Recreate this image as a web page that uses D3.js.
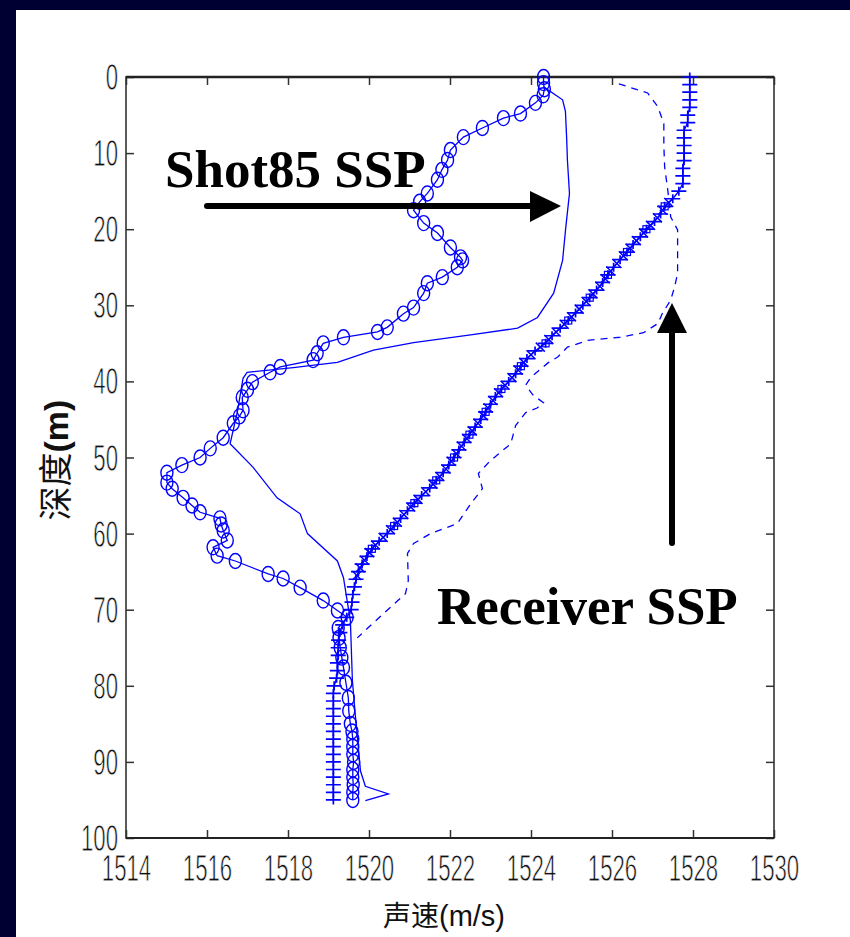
<!DOCTYPE html>
<html><head><meta charset="utf-8">
<script src="https://cdn.jsdelivr.net/npm/d3@7"></script>
<style>html,body{margin:0;padding:0;background:#fff;}svg{display:block;}</style>
</head><body>
<svg id="c" width="850" height="937"></svg>
<script>
// ---- data ----
const xTicks = [1514,1516,1518,1520,1522,1524,1526,1528,1530];
const yTicks = [0,10,20,30,40,50,60,70,80,90,100];

// circle-marked profile
const circDepth = [0,0.8,1.6,2.4,3.4,4.8,5.4,6.7,7.9,9.6,10.9,12.2,13.5,15.3,16.4,17.5,19.2,20.5,22.4,23.7,24.1,25,26.3,27.1,28.4,30.3,31.1,32.9,33.5,34.2,35,36.3,37.2,38.1,38.8,40.1,41.1,42.1,43.8,44.6,45.5,47.4,48.8,50,51,52,53.3,54.1,55.3,56.3,57.2,58,58.8,59.6,60.9,61.8,62.9,63.6,65.3,65.9,67.1,68.8,70.1,71,72.4,73.7,75,76.3,77.6,79.6,81.6,83.3,85,86,87,88,89,90,91,92,93,94,95];
const circSpeed = [1524.31,1524.31,1524.33,1524.3,1524.11,1523.74,1523.32,1522.8,1522.33,1522.01,1521.94,1521.8,1521.69,1521.44,1521.25,1521.1,1521.35,1521.69,1522.01,1522.26,1522.31,1522.18,1521.81,1521.44,1521.35,1521.1,1520.85,1520.45,1520.21,1519.37,1518.87,1518.72,1518.62,1517.81,1517.56,1517.12,1517.0,1516.87,1516.89,1516.8,1516.65,1516.4,1516.08,1515.83,1515.38,1515.01,1515.01,1515.14,1515.41,1515.63,1515.83,1516.32,1516.35,1516.4,1516.5,1516.15,1516.25,1516.7,1517.51,1517.88,1518.3,1518.87,1519.22,1519.46,1519.24,1519.26,1519.29,1519.33,1519.37,1519.43,1519.49,1519.5,1519.54,1519.58,1519.6,1519.6,1519.6,1519.62,1519.6,1519.6,1519.61,1519.6,1519.6,1519.6];

// "+" marked profile
const plusDepth = [0,1,2,3,4,5,6,7,8,9,10,11,12,13,14,15,16,17,18,19,20,21,22,23,24,25,26,27,28,29,30,31,32,33,34,35,36,37,38,39,40,41,42,43,44,45,46,47,48,49,50,51,52,53,54,55,56,57,58,59,60,61,62,63,64,65,66,67,68,69,70,71,72,73,74,75,76,77,78,79,80,81,82,83,84,85,86,87,88,89,90,91,92,93,94,95];
const plusSpeed = [1527.92,1527.92,1527.92,1527.92,1527.92,1527.87,1527.87,1527.78,1527.78,1527.78,1527.78,1527.78,1527.75,1527.75,1527.75,1527.65,1527.5,1527.3,1527.2,1527.05,1526.85,1526.7,1526.52,1526.37,1526.2,1526.04,1525.9,1525.77,1525.62,1525.45,1525.28,1525.1,1524.92,1524.72,1524.52,1524.36,1524.1,1523.9,1523.75,1523.62,1523.45,1523.27,1523.12,1523.0,1522.88,1522.76,1522.62,1522.48,1522.35,1522.22,1522.1,1521.97,1521.83,1521.66,1521.5,1521.3,1521.12,1520.95,1520.78,1520.62,1520.45,1520.25,1520.07,1519.95,1519.83,1519.74,1519.68,1519.64,1519.6,1519.58,1519.56,1519.45,1519.35,1519.28,1519.25,1519.24,1519.24,1519.22,1519.22,1519.2,1519.14,1519.12,1519.12,1519.12,1519.12,1519.12,1519.12,1519.12,1519.12,1519.12,1519.12,1519.12,1519.12,1519.12,1519.12,1519.12];

// "x" markers along the slope
const xDepth = [16.5,17.5,18.5,19.5,20.5,21.5,22.5,23.5,24.5,25.5,26.5,27.5,28.5,29.5,30.5,31.5,32.5,33.5,34.5,35.5,36.5,37.5,38.5,39.5,40.5,41.5,42.5,43.5,44.5,45.5,46.5,47.5,48.5,49.5,50.5,51.5,52.5,53.5,54.5,55.5,56.5,57.5,58.5,59.5,60.5,61.5,62.5,63.5,64.5,65.5];
const xSpeed = [1527.4,1527.25,1527.12,1526.95,1526.78,1526.6,1526.45,1526.28,1526.12,1525.97,1525.83,1525.7,1525.53,1525.36,1525.19,1525.0,1524.82,1524.62,1524.44,1524.23,1524.0,1523.82,1523.68,1523.53,1523.36,1523.2,1523.06,1522.94,1522.82,1522.69,1522.55,1522.41,1522.28,1522.16,1522.03,1521.9,1521.75,1521.58,1521.4,1521.21,1521.03,1520.86,1520.7,1520.53,1520.35,1520.16,1520.01,1519.89,1519.78,1519.7];

// small square markers along the slope
const sqDepth = [17,20,23,26,29,32,35,38,41,44,47,50,53,56,59,62];
const sqSpeed = [1527.3,1526.85,1526.37,1525.9,1525.45,1524.92,1524.36,1523.75,1523.27,1522.88,1522.48,1522.1,1521.66,1521.12,1520.62,1520.07];

// solid line: Shot85 SSP
const solidDepth = [1.3,3.0,4.5,8,11,15.3,19.7,24.1,28.4,31.6,33.0,33.9,34.9,35.9,37.5,38.2,38.8,39.6,44,48.2,51.3,55.3,57.4,60,63.6,65.8,68.8,71.4,79.3,83.7,91.2,93.2,94.2,95.1];
const solidSpeed = [1524.31,1524.78,1524.85,1524.88,1524.9,1524.95,1524.86,1524.78,1524.56,1524.16,1523.67,1522.51,1521.1,1520.11,1519.22,1518.13,1516.99,1516.89,1516.75,1516.57,1517.14,1517.73,1518.3,1518.48,1519.22,1519.37,1519.46,1519.54,1519.59,1519.66,1519.79,1519.91,1520.48,1519.91];

// dashed line: Receiver SSP
const dashDepth = [0.9,2.1,3.9,6.1,9,11.8,15,18.4,20.1,23,25.8,27.5,29.3,31,32.4,33.6,34.2,34.6,35.5,36.8,37.6,39.5,40.5,41.8,42.8,43.5,44.1,45.8,48.2,50.4,52.1,54.1,56.1,58.7,60,61.3,62.6,66.2,67.9,70.5,73.7];
const dashSpeed = [1526.17,1526.88,1527.13,1527.28,1527.28,1527.3,1527.38,1527.45,1527.62,1527.62,1527.62,1527.55,1527.45,1527.25,1527.13,1526.78,1526.2,1525.4,1524.9,1524.66,1524.41,1523.99,1523.87,1524.05,1524.31,1524.15,1523.87,1523.62,1523.5,1523.0,1522.7,1522.8,1522.51,1522.18,1521.52,1521.1,1520.95,1520.97,1520.9,1520.36,1519.71];

const labelShot = "Shot85 SSP";
const labelRecv = "Receiver SSP";
const xTitleCn = "声速", xTitleUnit = "(m/s)";
const yTitleCn = "深度", yTitleUnit = "(m)";

// ---- drawing ----
const svg = d3.select("#c");
const BLUE = "#0000ff";
svg.append("rect").attr("width",850).attr("height",937).attr("fill","#fff");
svg.append("rect").attr("x",0).attr("y",0).attr("width",850).attr("height",10).attr("fill","#000033");
svg.append("rect").attr("x",0).attr("y",0).attr("width",16).attr("height",937).attr("fill","#000033");

const x = d3.scaleLinear().domain([1514,1530]).range([126,774]);
const y = d3.scaleLinear().domain([0,100]).range([77,838]);
const X0 = x.range()[0], X1 = x.range()[1], Y0 = y.range()[0], Y1 = y.range()[1];

const tickFont = "'Liberation Sans', Arial, sans-serif";
const SX = 0.6;

function thin(sel){
  sel.attr("stroke","#fff").attr("stroke-width",0.8).attr("paint-order","fill");
}

// bottom axis
const gB = svg.append("g").attr("transform",`translate(0,${Y1})`)
  .call(d3.axisBottom(x).tickValues(xTicks).tickSizeInner(-8).tickSizeOuter(0).tickPadding(17).tickFormat(d3.format("d")));
gB.selectAll("text").attr("font-size",37).attr("font-family",tickFont).attr("fill","#111")
  .attr("transform",`scale(${SX},1)`).call(thin);
// left axis
const gL = svg.append("g").attr("transform",`translate(${X0},0)`)
  .call(d3.axisLeft(y).tickValues(yTicks).tickSizeInner(-8).tickSizeOuter(0).tickPadding(8));
gL.selectAll("text").attr("font-size",37).attr("font-family",tickFont).attr("fill","#111")
  .attr("x",-8/SX).attr("dy","0.34em").attr("transform",`scale(${SX},1)`).call(thin);
// top & right axes (ticks only)
svg.append("g").attr("transform",`translate(0,${Y0})`)
  .call(d3.axisTop(x).tickValues(xTicks).tickSizeInner(-8).tickSizeOuter(0).tickFormat(""));
svg.append("g").attr("transform",`translate(${X1},0)`)
  .call(d3.axisRight(y).tickValues(yTicks).tickSizeInner(-8).tickSizeOuter(0).tickFormat(""));
svg.selectAll(".domain").remove();
svg.selectAll(".tick line").attr("stroke","#333").attr("stroke-width",1.5);
// frame
svg.append("rect").attr("x",X0).attr("y",Y0).attr("width",X1-X0).attr("height",Y1-Y0)
  .attr("fill","none").attr("stroke","#333").attr("stroke-width",1.6);
svg.append("line").attr("x1",X0).attr("x2",X1).attr("y1",Y0).attr("y2",Y0).attr("stroke","#222").attr("stroke-width",2.4);
svg.append("line").attr("x1",X0).attr("x2",X1).attr("y1",Y1).attr("y2",Y1).attr("stroke","#222").attr("stroke-width",2);

const plot = svg.append("g");
const line = d3.line().x(d=>x(d[1])).y(d=>y(d[0]));
const zip = (a,b)=>a.map((v,i)=>[v,b[i]]);

const circPts = zip(circDepth,circSpeed);
const plusPts = zip(plusDepth,plusSpeed);
const xPts = zip(xDepth,xSpeed);
const sqPts = zip(sqDepth,sqSpeed);
const solidPts = zip(solidDepth,solidSpeed);
const dashPts = zip(dashDepth,dashSpeed);

// lines
plot.append("path").attr("d",line(dashPts)).attr("fill","none").attr("stroke",BLUE).attr("stroke-width",1.3).attr("stroke-dasharray","7,6");
plot.append("path").attr("d",line(solidPts)).attr("fill","none").attr("stroke",BLUE).attr("stroke-width",1.3);
plot.append("path").attr("d",line(circPts)).attr("fill","none").attr("stroke",BLUE).attr("stroke-width",1.3);
plot.append("path").attr("d",line(plusPts)).attr("fill","none").attr("stroke",BLUE).attr("stroke-width",1.4);

// circle markers
plot.selectAll("ellipse.c").data(circPts).join("ellipse").attr("class","c")
  .attr("cx",d=>x(d[1])).attr("cy",d=>y(d[0])).attr("rx",6).attr("ry",7.5)
  .attr("fill","none").attr("stroke",BLUE).attr("stroke-width",1.4);
// plus markers
plot.selectAll("path.p").data(plusPts).join("path").attr("class","p")
  .attr("d",d=>{const cx=x(d[1]),cy=y(d[0]);return `M${cx-7.5},${cy}H${cx+7.5}M${cx},${cy-4.5}V${cy+4.5}`;})
  .attr("stroke",BLUE).attr("stroke-width",1.7).attr("fill","none");
// x markers
plot.selectAll("path.x").data(xPts).join("path").attr("class","x")
  .attr("d",d=>{const cx=x(d[1]),cy=y(d[0]),r=4.5;return `M${cx-r},${cy-r}L${cx+r},${cy+r}M${cx-r},${cy+r}L${cx+r},${cy-r}`;})
  .attr("stroke",BLUE).attr("stroke-width",1.5).attr("fill","none");
// small squares
plot.selectAll("rect.s").data(sqPts).join("rect").attr("class","s")
  .attr("x",d=>x(d[1])-3.5).attr("y",d=>y(d[0])-3.5).attr("width",7).attr("height",7)
  .attr("fill","none").attr("stroke",BLUE).attr("stroke-width",1.2);
plot.selectAll("circle.sd").data(sqPts).join("circle").attr("class","sd")
  .attr("cx",d=>x(d[1])).attr("cy",d=>y(d[0])).attr("r",1).attr("fill",BLUE);

// annotations
const serif = "'Liberation Serif','Times New Roman',serif";
svg.append("text").attr("x",165).attr("y",187).attr("font-family",serif).attr("font-weight","bold")
  .attr("font-size",53).attr("fill","#000").text(labelShot);
svg.append("text").attr("x",437).attr("y",624).attr("font-family",serif).attr("font-weight","bold")
  .attr("font-size",53).attr("fill","#000").text(labelRecv);
// Shot85 arrow
svg.append("line").attr("x1",207).attr("y1",206).attr("x2",532).attr("y2",206)
  .attr("stroke","#000").attr("stroke-width",6).attr("stroke-linecap","round");
svg.append("path").attr("d","M530,191 L561,206 L530,222 Z").attr("fill","#000");
// Receiver arrow
svg.append("line").attr("x1",672).attr("y1",543).attr("x2",672).attr("y2",330)
  .attr("stroke","#000").attr("stroke-width",6).attr("stroke-linecap","round");
svg.append("path").attr("d","M657,333 L672,303 L687,333 Z").attr("fill","#000");

// axis titles
const xt = svg.append("text").attr("x",444).attr("y",926).attr("text-anchor","middle").attr("fill","#111");
xt.append("tspan").attr("font-family","'Noto Sans CJK SC',sans-serif").attr("font-size",28).text(xTitleCn);
xt.append("tspan").attr("font-family",tickFont).attr("font-size",29).text(xTitleUnit);

const yt = svg.append("text").attr("transform","translate(68,460) rotate(-90)").attr("text-anchor","middle").attr("fill","#111");
yt.append("tspan").attr("font-family","'Noto Sans CJK SC',sans-serif").attr("font-size",34).text(yTitleCn);
yt.append("tspan").attr("font-family",tickFont).attr("font-weight","bold").attr("font-size",34).text(yTitleUnit);
</script>
</body></html>
